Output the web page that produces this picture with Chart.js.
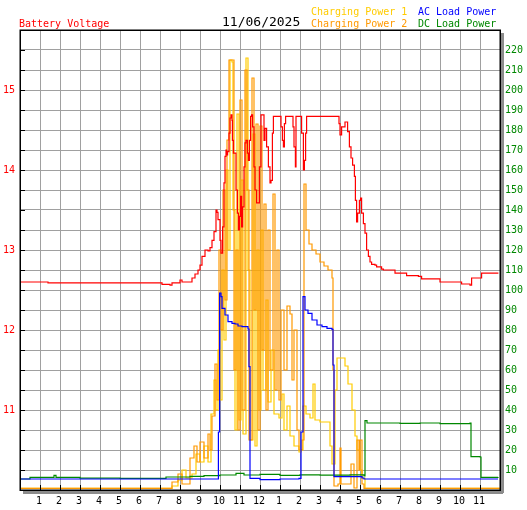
<!DOCTYPE html>
<html>
<head>
<meta charset="utf-8">
<script src="https://cdn.jsdelivr.net/npm/chart.js@4.4.1/dist/chart.umd.min.js"></script>
<style>
  html, body { margin: 0; padding: 0; background: #fff; }
  #wrap { position: relative; width: 527px; height: 510px; }
</style>
</head>
<body>
<div id="wrap"><canvas id="chart" width="527" height="510"></canvas></div>
<script>
// hours of day (0..24) and readings
const voltHours = [0, 1.35, 1.4, 7.0, 7.1, 7.5, 7.6, 8.0, 8.1, 8.5, 8.6, 8.75, 8.9, 9.0, 9.1, 9.25, 9.4, 9.5, 9.6, 9.7, 9.8, 9.85, 9.9, 10.0, 10.05, 10.13, 10.2, 10.25, 10.3, 10.33, 10.38, 10.45, 10.5, 10.55, 10.6, 10.62, 10.67, 10.8, 10.87, 10.92, 10.97, 11.03, 11.08, 11.13, 11.2, 11.25, 11.3, 11.37, 11.42, 11.47, 11.53, 11.58, 11.63, 11.7, 11.75, 11.83, 11.92, 11.97, 12.05, 12.17, 12.2, 12.25, 12.33, 12.42, 12.5, 12.55, 12.62, 12.67, 12.97, 13.05, 13.12, 13.17, 13.22, 13.28, 13.58, 13.65, 13.7, 13.77, 13.8, 14.05, 14.08, 14.17, 14.22, 14.28, 14.33, 15.87, 15.95, 16.0, 16.08, 16.25, 16.38, 16.47, 16.55, 16.63, 16.72, 16.77, 16.83, 16.88, 16.97, 17.03, 17.08, 17.17, 17.25, 17.33, 17.42, 17.5, 17.58, 17.75, 17.83, 18.08, 18.17, 18.5, 18.75, 19.08, 19.33, 19.92, 20.08, 20.75, 21.0, 21.83, 22.08, 22.5, 22.58, 22.92, 23.08, 23.92];
const voltValues = [12.6, 12.6, 12.59, 12.59, 12.57, 12.56, 12.59, 12.625, 12.6, 12.6, 12.65, 12.7, 12.75, 12.81, 12.92, 13.0, 12.99, 13.03, 13.12, 13.23, 13.5, 13.47, 13.38, 13.12, 12.96, 13.29, 13.84, 14.17, 14.25, 14.19, 14.23, 14.46, 14.65, 14.69, 14.62, 14.37, 14.21, 13.75, 13.46, 13.25, 13.42, 13.67, 13.29, 13.54, 14.04, 14.34, 14.37, 14.21, 14.12, 14.37, 14.67, 14.69, 14.54, 14.04, 13.75, 13.59, 13.59, 14.04, 14.69, 14.69, 14.37, 14.52, 14.29, 14.04, 13.84, 13.87, 14.46, 14.67, 14.67, 14.54, 14.37, 14.29, 14.58, 14.67, 14.67, 14.54, 14.29, 14.04, 14.67, 14.67, 14.46, 14.0, 14.12, 14.46, 14.67, 14.67, 14.58, 14.44, 14.54, 14.6, 14.48, 14.29, 14.15, 14.06, 13.92, 13.62, 13.35, 13.46, 13.62, 13.65, 13.46, 13.33, 13.21, 13.0, 12.92, 12.85, 12.82, 12.81, 12.79, 12.76, 12.75, 12.75, 12.71, 12.71, 12.68, 12.67, 12.64, 12.64, 12.6, 12.6, 12.575, 12.56, 12.65, 12.65, 12.71, 12.71];

const cp1Hours = [0, 7.3, 7.6, 7.9, 8.1, 8.3, 8.6, 8.8, 9.0, 9.2, 9.4, 9.55, 9.7, 9.8, 9.9, 10.0, 10.1, 10.2, 10.3, 10.4, 10.5, 10.6, 10.65, 10.75, 10.85, 10.95, 11.05, 11.15, 11.3, 11.4, 11.5, 11.65, 11.75, 11.85, 11.95, 12.05, 12.15, 12.3, 12.4, 12.55, 12.7, 12.95, 13.1, 13.2, 13.35, 13.5, 13.7, 13.95, 14.05, 14.15, 14.3, 14.5, 14.65, 14.75, 15.0, 15.25, 15.5, 15.6, 15.75, 15.85, 16.1, 16.25, 16.4, 16.6, 16.75, 16.85, 17.0, 17.1, 17.25, 24];
const cp1Values = [0.8, 0.8, 2, 5, 10, 6, 8, 18, 14, 22, 14, 38, 55, 40, 70, 45, 110, 75, 160, 120, 215, 214, 140, 30, 188, 35, 155, 28, 216, 110, 25, 178, 22, 120, 40, 130, 50, 95, 44, 70, 38, 36, 48, 30, 42, 27, 22, 19, 20, 42, 38, 36, 53, 35, 34, 34, 22, 13, 50, 66, 66, 62, 53, 40, 27, 20, 10, 6, 0.8, 0.8];

const cp2Hours = [0, 7.4, 7.6, 7.9, 8.1, 8.5, 8.7, 8.85, 9.0, 9.2, 9.4, 9.5, 9.6, 9.75, 9.85, 9.95, 10.05, 10.15, 10.25, 10.35, 10.45, 10.6, 10.7, 10.8, 10.9, 11.0, 11.1, 11.25, 11.35, 11.45, 11.6, 11.7, 11.8, 11.9, 12.0, 12.1, 12.2, 12.3, 12.4, 12.5, 12.65, 12.75, 12.85, 12.95, 13.05, 13.2, 13.35, 13.5, 13.6, 13.7, 13.85, 13.95, 14.1, 14.2, 14.3, 14.45, 14.6, 14.8, 15.0, 15.2, 15.4, 15.6, 15.65, 15.7, 15.9, 16.0, 16.05, 16.5, 16.55, 16.65, 16.7, 16.85, 16.95, 17.0, 17.1, 17.2, 24];
const cp2Values = [0.8, 0.8, 4, 8, 3, 16, 22, 14, 24, 16, 28, 20, 37, 63, 45, 120, 80, 150, 95, 175, 215, 215, 60, 120, 30, 195, 40, 210, 150, 25, 206, 90, 183, 30, 182, 70, 143, 40, 130, 60, 148, 50, 120, 45, 90, 60, 92, 88, 55, 80, 30, 20, 25, 153, 130, 123, 120, 118, 114, 112, 110, 106, 60, 2, 3, 21, 3, 3, 13, 13, 1, 25, 10, 25, 3, 0.8, 0.8];

const acHours = [0, 9.9, 9.92, 9.98, 10.05, 10.1, 10.25, 10.4, 10.6, 10.75, 10.9, 11.1, 11.4, 11.45, 11.5, 12.0, 13.0, 13.95, 14.05, 14.15, 14.25, 14.4, 14.6, 14.85, 15.1, 15.35, 15.6, 15.65, 15.7, 17.1, 17.2, 23.9];
const acValues = [5.5, 5.5, 29, 98.5, 96.7, 90.8, 87.5, 84.2, 83.3, 83, 82, 81.7, 80.5, 61.7, 5.8, 5.2, 5.5, 5.8, 29, 96.7, 90, 88.3, 85, 82.5, 81.7, 80.8, 80.3, 62.5, 6.7, 6, 5.5, 5.5];

const dcHours = [0, 0.45, 0.5, 1.6, 1.7, 1.8, 3.0, 5.0, 6.5, 7.3, 8.5, 9.2, 10.0, 10.8, 11.2, 12.0, 13.0, 14.0, 15.0, 16.5, 17.2, 17.25, 17.35, 19.0, 20.0, 21.0, 22.5, 22.55, 23.0, 23.05, 23.9];
const dcValues = [5.5, 5.5, 6.3, 6.3, 7.3, 6.3, 5.9, 5.8, 5.8, 6.5, 6.8, 7.2, 7.5, 8.3, 7.5, 7.8, 7.3, 7.6, 7.4, 7.6, 7.0, 34.7, 33.5, 33.3, 33.5, 33.2, 33.5, 16.7, 16.5, 6.3, 6.5];

// axis ticks
const hourTicks = [1, 2, 3, 4, 5, 6, 7, 8, 9, 10, 11, 12, 13, 14, 15, 16, 17, 18, 19, 20, 21, 22, 23];
const hourLabels = ['1', '2', '3', '4', '5', '6', '7', '8', '9', '10', '11', '12', '1', '2', '3', '4', '5', '6', '7', '8', '9', '10', '11'];
const voltLabels = [11, 12, 13, 14, 15];
const powerLabels = [10, 20, 30, 40, 50, 60, 70, 80, 90, 100, 110, 120, 130, 140, 150, 160, 170, 180, 190, 200, 210, 220];

const MONO = "'DejaVu Sans Mono', monospace";
const RED = '#ff0000', GOLD = '#ffcc00', ORANGE = '#ff9900', BLUE = '#0000ff', GREEN = '#008800';

const toPoints = (hs, vs) => hs.map((h, i) => ({ x: h, y: vs[i] }));

// frame, inner tick marks and the header texts
const framePlugin = {
  id: 'frame',
  afterDraw(chart) {
    const ctx = chart.ctx;
    const a = chart.chartArea;
    const xs = chart.scales.x, ys = chart.scales.y;
    ctx.save();
    // drop shadow
    ctx.fillStyle = '#8c8c8c';
    ctx.fillRect(a.right + 1, a.top + 3, 3, a.bottom - a.top);
    ctx.fillRect(a.left + 3, a.bottom + 1, a.right - a.left, 3);
    // border
    ctx.strokeStyle = '#000';
    ctx.lineWidth = 1.5;
    ctx.strokeRect(a.left + 0.25, a.top + 0.25, a.right - a.left, a.bottom - a.top);
    // tick marks inside the plot
    ctx.lineWidth = 1;
    ctx.beginPath();
    hourTicks.forEach(h => {
      const x = Math.round(xs.getPixelForValue(h)) + 0.5;
      ctx.moveTo(x, a.bottom - 5);
      ctx.lineTo(x, a.bottom);
    });
    for (let v = 10.25; v < 15.75; v += 0.25) {
      const y = Math.round(ys.getPixelForValue(v)) + 0.5;
      ctx.moveTo(a.left, y);
      ctx.lineTo(a.left + 5, y);
    }
    ctx.stroke();
    // header
    ctx.textBaseline = 'alphabetic';
    ctx.textAlign = 'left';
    ctx.font = '10px ' + MONO;
    ctx.fillStyle = RED;
    ctx.fillText('Battery Voltage', 19, 26.5);
    ctx.fillStyle = GOLD;
    ctx.fillText('Charging Power 1', 311, 14.5);
    ctx.fillStyle = ORANGE;
    ctx.fillText('Charging Power 2', 311, 26.5);
    ctx.fillStyle = BLUE;
    ctx.fillText('AC Load Power', 418, 14.5);
    ctx.fillStyle = GREEN;
    ctx.fillText('DC Load Power', 418, 26.5);
    ctx.font = '13px ' + MONO;
    ctx.fillStyle = '#000';
    ctx.fillText('11/06/2025', 222, 25.5);
    ctx.restore();
  }
};

new Chart(document.getElementById('chart'), {
  type: 'line',
  data: {
    datasets: [
      { label: 'Charging Power 1', data: toPoints(cp1Hours, cp1Values), yAxisID: 'y2', borderColor: GOLD, order: 5 },
      { label: 'Charging Power 2', data: toPoints(cp2Hours, cp2Values), yAxisID: 'y2', borderColor: ORANGE, order: 4 },
      { label: 'DC Load Power', data: toPoints(dcHours, dcValues), yAxisID: 'y2', borderColor: GREEN, order: 3 },
      { label: 'AC Load Power', data: toPoints(acHours, acValues), yAxisID: 'y2', borderColor: BLUE, order: 2 },
      { label: 'Battery Voltage', data: toPoints(voltHours, voltValues), yAxisID: 'y', borderColor: RED, order: 1 }
    ]
  },
  options: {
    responsive: false,
    devicePixelRatio: 1,
    animation: false,
    layout: { padding: { top: 30, left: 0, right: 0, bottom: 0 } },
    plugins: { legend: { display: false }, tooltip: { enabled: false } },
    elements: { point: { radius: 0 }, line: { borderWidth: 1.2, tension: 0, fill: false, stepped: true } },
    scales: {
      x: {
        type: 'linear', min: 0, max: 24,
        afterFit(s) { s.height = 20; },
        afterBuildTicks(s) { s.ticks = hourTicks.map(v => ({ value: v })); },
        ticks: {
          autoSkip: false, maxRotation: 0, padding: 5, labelOffset: -1,
          color: '#000', font: { family: MONO, size: 10 },
          callback: v => hourLabels[hourTicks.indexOf(v)] || ''
        },
        grid: { color: '#a0a0a0', drawTicks: false },
        border: { display: false }
      },
      y: {
        position: 'left', min: 10, max: 15.75,
        afterFit(s) { s.width = 20; },
        ticks: {
          stepSize: 0.25, autoSkip: false, padding: 5,
          color: RED, font: { family: MONO, size: 10 },
          callback: v => voltLabels.includes(v) ? String(v) : ''
        },
        grid: { color: '#a0a0a0', drawTicks: false },
        border: { display: false }
      },
      y2: {
        position: 'right', min: 0, max: 230,
        afterFit(s) { s.width = 27; },
        ticks: {
          stepSize: 10, autoSkip: false, padding: 5,
          color: GREEN, font: { family: MONO, size: 10 },
          callback: v => powerLabels.includes(v) ? String(v) : ''
        },
        grid: { display: false, drawTicks: false },
        border: { display: false }
      }
    }
  },
  plugins: [framePlugin]
});
</script>
</body>
</html>
